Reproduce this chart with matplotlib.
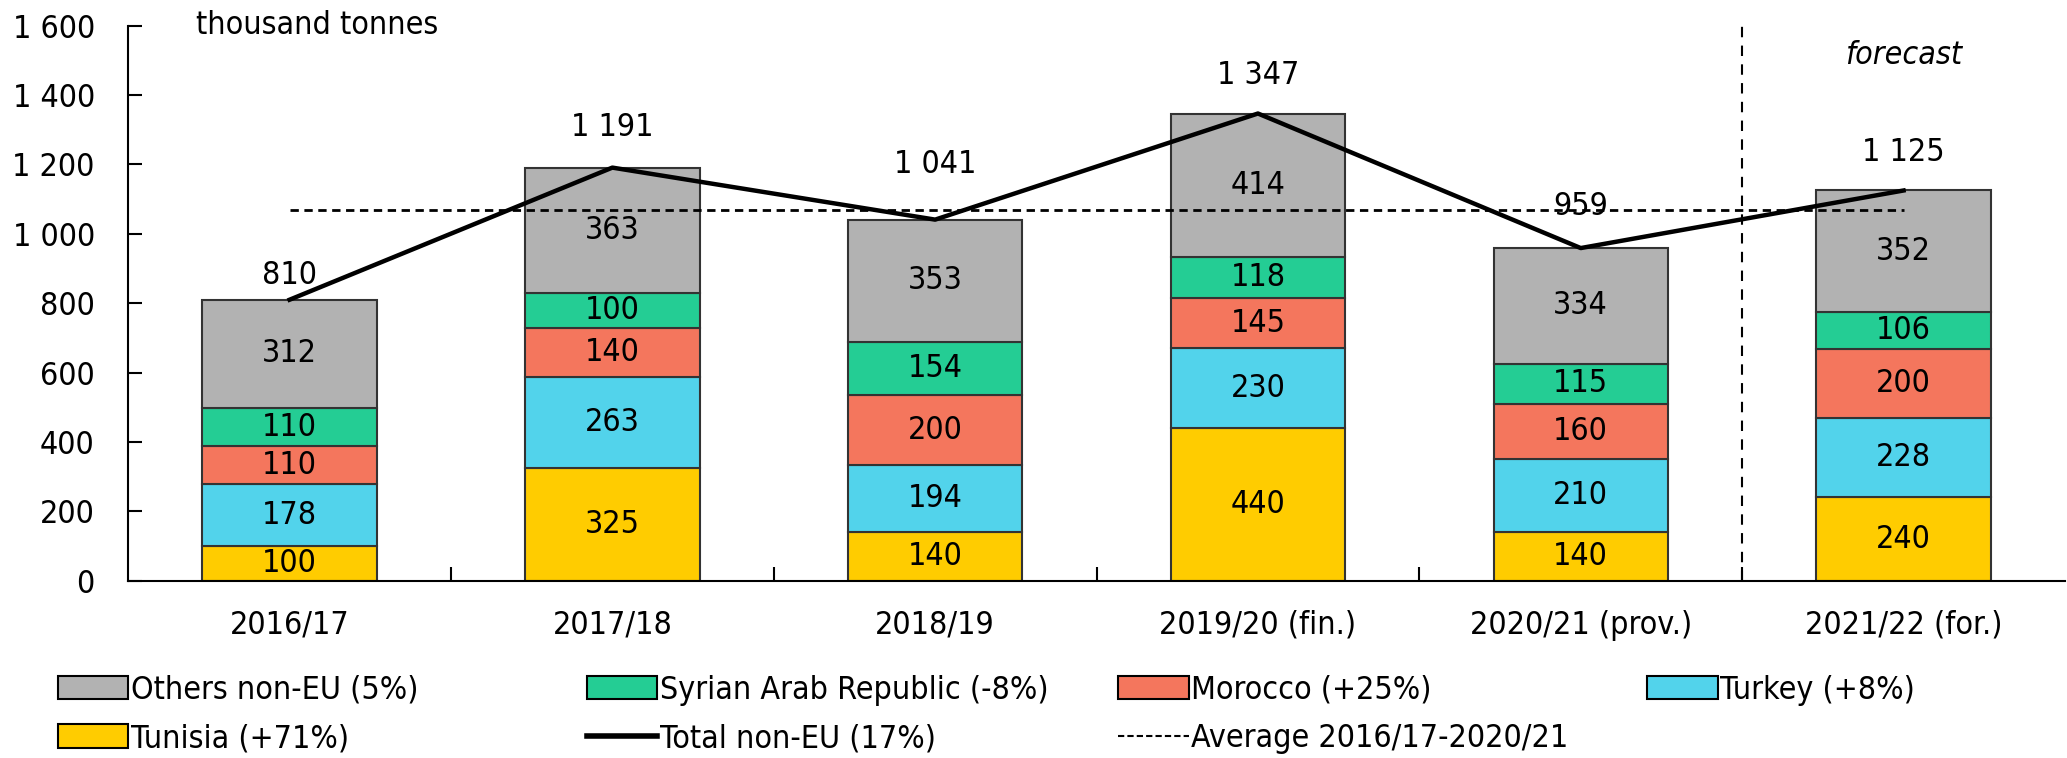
import matplotlib
matplotlib.use("Agg")
import matplotlib.pyplot as plt
import numpy as np
from matplotlib.patches import Patch
from matplotlib.lines import Line2D
from matplotlib.ticker import FuncFormatter

# data (thousand tonnes)
seasons = ["2016/17", "2017/18", "2018/19", "2019/20 (fin.)", "2020/21 (prov.)", "2021/22 (for.)"]
tunisia = [100, 325, 140, 440, 140, 240]
turkey = [178, 263, 194, 230, 210, 228]
morocco = [110, 140, 200, 145, 160, 200]
syria = [110, 100, 154, 118, 115, 106]
others = [312, 363, 353, 414, 334, 352]
total = [810, 1191, 1041, 1347, 959, 1125]
average = 1070

# label offsets above the total line (data units)
label_offsets = [70, 117, 160, 110, 120, 110]

plt.rcParams['font.family'] = ['DejaVu Sans']
plt.rcParams['font.stretch'] = 'condensed'
FS = 23

fig = plt.figure(figsize=(20.67, 7.58), dpi=100)
ax = fig.add_axes([0.062, 0.234, 0.937, 0.732])

x = np.arange(len(seasons))
w = 0.54
series = [
    (tunisia, '#FFCC00', 'Tunisia (+71%)'),
    (turkey, '#52D3EB', 'Turkey (+8%)'),
    (morocco, '#F4765D', 'Morocco (+25%)'),
    (syria, '#24CD94', 'Syrian Arab Republic (-8%)'),
    (others, '#B2B2B2', 'Others non-EU (5%)'),
]
bottom = np.zeros(len(seasons))
handles = {}
for vals, col, lab in series:
    vals = np.array(vals)
    ax.bar(x, vals, w, bottom=bottom, color=col, edgecolor='#333333', linewidth=1.5, zorder=2)
    for xi, b, v in zip(x, bottom, vals):
        ax.text(xi, b + v / 2, str(v), ha='center', va='center', fontsize=FS, zorder=5)
    handles[lab] = Patch(facecolor=col, edgecolor='black', linewidth=1.5)
    bottom += vals

ax.plot(x, total, color='black', lw=3.2, zorder=4)
ax.plot([x[0], x[-1]], [average, average], color='black', lw=2, ls=(0, (3, 2)), zorder=3)
ax.axvline(4.5, color='black', lw=1.5, ls=(0, (5, 4)), zorder=3)

for xi, t, off in zip(x, total, label_offsets):
    ax.text(xi, t + off, f"{t:,}".replace(",", " "), ha='center', va='center', fontsize=FS, zorder=5)

ax.text(5, 1515, 'forecast', ha='center', va='center', fontsize=FS, style='italic')
ax.text(0.035, 1.0, 'thousand tonnes', transform=ax.transAxes, ha='left', va='center', fontsize=FS)

ax.set_xlim(-0.5, 5.5)
ax.set_ylim(0, 1600)
ax.set_yticks(np.arange(0, 1601, 200))
ax.yaxis.set_major_formatter(FuncFormatter(lambda v, p: f"{int(v):,}".replace(",", " ")))
ax.set_xticks(x)
ax.set_xticklabels(seasons)
ax.set_xticks(np.arange(0.5, 5, 1), minor=True)
ax.tick_params(axis='x', which='major', length=0, pad=21, labelsize=FS)
ax.tick_params(axis='x', which='minor', direction='in', length=10, width=1.5)
ax.tick_params(axis='y', direction='in', length=10, width=1.5, pad=24, labelsize=FS)
ax.spines['top'].set_visible(False)
ax.spines['right'].set_visible(False)
ax.spines['left'].set_linewidth(1.5)
ax.spines['bottom'].set_linewidth(1.5)

total_h = Line2D([], [], color='black', lw=4)
avg_h = Line2D([], [], color='black', lw=1.5, ls=(0, (3, 1.5)))
columns = [
    ([handles['Others non-EU (5%)'], handles['Tunisia (+71%)']], ['Others non-EU (5%)', 'Tunisia (+71%)']),
    ([handles['Syrian Arab Republic (-8%)'], total_h], ['Syrian Arab Republic (-8%)', 'Total non-EU (17%)']),
    ([handles['Morocco (+25%)'], avg_h], ['Morocco (+25%)', 'Average 2016/17-2020/21']),
    ([handles['Turkey (+8%)']], ['Turkey (+8%)']),
]
col_x = [0.028, 0.284, 0.541, 0.797]
for cx, (hs, ls) in zip(col_x, columns):
    fig.legend(hs, ls, loc='upper left', bbox_to_anchor=(cx, 0.11), frameon=False,
               fontsize=FS, handlelength=2.2, handleheight=0.75, handletextpad=0.08,
               labelspacing=0.55, borderpad=0, borderaxespad=0)

fig.savefig('out.png', dpi=100)
